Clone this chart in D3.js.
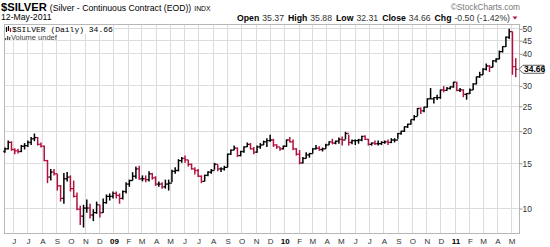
<!DOCTYPE html>
<html><head><meta charset="utf-8">
<script src="https://cdn.jsdelivr.net/npm/d3@7"></script>
<style>
html,body{margin:0;padding:0;background:#fff;}
svg{display:block;font-family:"Liberation Sans",Arial,sans-serif;}
</style></head>
<body><svg id="c" width="550" height="247"></svg>
<script>
// Weekly bars (week starting Monday 12-May-2008 ... 9-May-2011)
const weekHigh = [17.2,18.3,18.2,17.1,17.0,17.6,17.9,18.3,18.9,19.5,18.9,18.0,17.5,15.4,14.2,14.2,13.6,12.3,13.7,13.8,13.4,12.8,11.5,10.2,10.3,10.8,10.4,9.9,10.6,10.3,10.9,11.3,11.4,11.6,
11.6,11.4,11.7,12.6,12.9,13.8,14.5,14.6,13.4,13.4,13.9,13.7,13.3,12.7,12.6,12.9,12.9,14.1,14.4,15.5,15.8,16.0,15.4,14.9,14.4,14.2,13.4,13.5,13.9,14.2,15.0,14.8,14.4,14.6,16.3,16.9,17.5,17.2,16.7,17.4,18.0,17.9,17.3,17.5,17.9,18.3,18.7,19.3,18.6,17.7,17.3,17.5,
18.5,18.9,18.5,17.1,16.8,15.8,16.5,16.4,17.1,17.6,17.4,17.2,17.8,18.2,18.6,18.3,18.8,19.0,19.8,19.3,18.5,18.5,18.6,19.1,19.2,18.6,18.0,18.3,18.3,18.2,18.3,18.5,18.7,18.7,19.6,20.0,20.8,21.3,22.1,23.0,24.5,24.6,24.8,26.7,29.3,27.0,27.6,28.9,29.8,29.6,29.8,31.0,
30.9,29.3,29.0,28.0,29.2,30.6,32.5,33.9,35.0,36.5,36.0,37.6,38.3,41.0,42.6,46.5,49.8,48.6,38.3];
const weekLow = [16.4,16.9,16.7,16.2,16.3,16.5,16.9,17.3,17.6,18.2,17.5,17.2,15.2,12.5,12.8,13.4,11.7,10.6,10.4,12.7,11.6,11.0,9.8,8.6,8.4,9.6,9.1,8.9,9.5,9.2,9.6,10.4,10.7,10.9,
10.9,10.4,10.8,11.4,12.1,12.8,13.0,12.9,12.7,12.6,12.7,12.9,12.2,12.1,11.9,11.9,11.7,12.6,13.6,13.9,15.0,15.0,14.5,14.1,13.5,13.2,12.5,12.7,13.3,13.6,14.1,13.9,13.8,14.0,14.4,16.1,16.8,15.8,15.9,16.4,17.3,16.9,16.2,16.4,17.0,17.6,17.3,18.1,17.3,17.0,16.7,16.9,
17.3,18.0,16.8,16.0,14.8,14.9,15.6,15.7,16.3,16.9,16.7,16.6,17.0,17.6,17.7,17.7,17.8,17.5,18.5,17.5,17.7,17.6,17.8,18.2,18.4,17.5,17.5,17.6,17.5,17.6,17.8,17.6,17.9,18.0,18.6,19.3,19.8,20.5,21.1,21.9,22.8,23.2,23.6,24.6,26.6,25.5,26.3,26.6,28.2,28.6,28.9,29.4,
28.5,28.3,27.0,26.4,27.8,28.8,30.3,32.1,33.0,34.3,33.8,35.3,36.8,37.9,40.3,42.3,45.5,33.0,32.3];
const weekClose = [17.0,18.0,16.9,16.7,16.6,17.4,17.5,18.0,18.6,18.8,17.7,17.4,15.3,13.2,13.8,13.6,12.2,10.9,13.0,13.2,11.9,11.1,9.9,9.3,10.0,10.0,9.4,9.6,10.3,9.6,10.5,11.1,11.1,11.4,
11.2,10.9,11.6,12.4,12.8,13.3,14.2,13.0,13.0,12.9,13.6,13.1,12.4,12.4,12.1,12.4,12.5,13.9,14.0,15.3,15.6,15.4,14.8,14.2,14.0,13.3,12.7,13.4,13.8,14.0,14.8,14.2,14.2,14.4,16.2,16.8,17.1,16.0,16.6,17.3,17.7,17.0,16.5,17.3,17.6,18.1,18.3,18.4,17.6,17.3,17.0,17.4,
18.4,18.1,17.0,16.2,15.0,15.6,16.1,16.3,17.0,17.1,16.9,17.0,17.6,18.1,17.9,18.2,18.5,18.4,19.5,18.0,18.3,18.3,18.4,19.0,18.5,17.7,17.9,17.8,17.8,18.0,18.1,18.0,18.4,18.4,19.5,19.9,20.7,21.2,22.1,22.7,24.4,23.9,24.7,26.6,26.6,26.9,26.9,28.8,28.7,29.2,29.6,30.9,
28.7,28.8,27.7,27.9,28.8,30.4,32.4,33.0,34.7,35.7,35.3,37.4,38.0,40.6,42.5,46.2,48.6,35.5,34.66];
const firstOpen = 16.6;
const yTicks = [10,15,20,25,30,40,45,50];
const lastClose = 34.66;
const headerTitle = "$SILVER";
const headerSub = "(Silver - Continuous Contract (EOD))";
const headerDate = "12-May-2011";
const quote = [["Open","35.37"],["High","35.88"],["Low","32.31"],["Close","34.66"],["Chg","-0.50 (-1.42%)"]];

const svg = d3.select("#c");
const L=4, R=519, T=24, B=233;
const weeks = d3.timeMonday.range(new Date(2008,4,12), new Date(2011,4,10));
const bars = weeks.map((d,i)=>({
  date: d3.timeDay.offset(d,2),
  open: i===0?firstOpen:weekClose[i-1],
  high: weekHigh[i], low: weekLow[i], close: weekClose[i]
}));
const x = d3.scaleTime().domain([new Date(2008,4,12), new Date(2011,4,18)]).range([L,R]);
const y = d3.scaleLog().domain([8.0,52.0]).range([B,T]);

// grid
const months = d3.timeMonth.range(new Date(2008,5,1), new Date(2011,5,1));
svg.append("g").selectAll("line").data(months).join("line")
  .attr("x1",d=>Math.round(x(d))+0.5).attr("x2",d=>Math.round(x(d))+0.5)
  .attr("y1",T).attr("y2",B).attr("stroke","#dcdcdc").attr("stroke-width",1);
svg.append("g").selectAll("line").data(yTicks).join("line")
  .attr("x1",L).attr("x2",R).attr("y1",d=>Math.round(y(d))+0.5).attr("y2",d=>Math.round(y(d))+0.5)
  .attr("stroke","#dcdcdc").attr("stroke-width",1);
svg.append("rect").attr("x",L+0.5).attr("y",T+0.5).attr("width",R-L).attr("height",B-T)
  .attr("fill","none").attr("stroke","#b8b8b8");

// right axis
const ya = d3.axisRight(y).tickValues(yTicks).tickSize(3).tickFormat(d3.format("d"));
const gy = svg.append("g").attr("transform",`translate(${R+0.5},0.5)`).call(ya);
gy.select(".domain").remove();
gy.selectAll(".tick line").attr("stroke","#999");
gy.selectAll("text").attr("font-size",8.5).attr("fill","#333").attr("x",3)
  .attr("font-family","Liberation Sans, Arial, sans-serif");

// bottom month labels
const xa = d3.axisBottom(x).tickValues(months).tickSize(0)
  .tickFormat(d=> d.getMonth()===0 ? d3.timeFormat("%y")(d) : d3.timeFormat("%B")(d)[0]);
const gx = svg.append("g").attr("transform",`translate(0.5,${B+2})`).call(xa);
gx.select(".domain").remove();
gx.selectAll("text").attr("font-size",8).attr("dy","0.71em")
  .attr("font-family","Liberation Sans, Arial, sans-serif")
  .attr("font-weight",d=>d.getMonth()===0?"bold":"normal")
  .attr("fill",d=>d.getMonth()===0?"#000":"#333");

// bars
const up="#000", dn="#b3123e";
const gb = svg.append("g");
bars.forEach(b=>{
  const c = b.close>=b.open?up:dn;
  const cx = x(b.date);
  gb.append("line").attr("x1",cx).attr("x2",cx).attr("y1",y(b.high)).attr("y2",y(b.low)).attr("stroke",c).attr("stroke-width",1.5);
  gb.append("line").attr("x1",cx-1.7).attr("x2",cx).attr("y1",y(b.open)).attr("y2",y(b.open)).attr("stroke",c).attr("stroke-width",1.3);
  gb.append("line").attr("x1",cx).attr("x2",cx+1.7).attr("y1",y(b.close)).attr("y2",y(b.close)).attr("stroke",c).attr("stroke-width",1.3);
});

// last price tag
const ly = y(lastClose);
svg.append("path").attr("d",`M${R},${ly} L${R+4},${ly-4} L${R+25},${ly-4} L${R+25},${ly+4} L${R+4},${ly+4} Z`)
  .attr("fill","#fff").attr("stroke","#333").attr("stroke-width",0.8);
svg.append("text").attr("x",R+5).attr("y",ly+3).attr("font-size",8.5).attr("font-weight","bold").text(d3.format(".2f")(lastClose));

// legend
svg.append("rect").attr("x",L+1).attr("y",T+1).attr("width",108).attr("height",8.5).attr("fill","#fff");
svg.append("rect").attr("x",L+1).attr("y",T+9.5).attr("width",50).attr("height",7).attr("fill","#fff");
const ig = svg.append("g").attr("transform",`translate(${L+2},${T+2})`);
[[0,1,6,"#000"],[2,0,5,"#000"],[4,2,6,"#b3123e"]].forEach(a=>{
  ig.append("line").attr("x1",a[0]+0.5).attr("x2",a[0]+0.5).attr("y1",a[1]).attr("y2",a[2]).attr("stroke",a[3]).attr("stroke-width",1.2);
});
svg.append("text").attr("x",L+8).attr("y",T+8).attr("font-family","Liberation Mono, DejaVu Sans Mono, monospace")
  .attr("font-size",8).attr("fill","#000").text(`${headerTitle} (Daily) ${d3.format(".2f")(lastClose)}`);
const vg = svg.append("g").attr("transform",`translate(${L+1},${T+11})`);
[[0,3],[2,1],[4,2]].forEach(a=>{
  vg.append("rect").attr("x",a[0]).attr("y",a[1]).attr("width",1.3).attr("height",5-a[1]).attr("fill","#555");
});
svg.append("text").attr("x",L+7).attr("y",T+15.5).attr("font-size",7.5).attr("fill","#444").text("Volume undef");

// header
const h = svg.append("text").attr("x",1).attr("y",11);
h.append("tspan").attr("font-size",11.2).attr("font-weight","bold").text(headerTitle);
h.append("tspan").attr("font-size",8.7).attr("dx",3).text(headerSub);
h.append("tspan").attr("font-size",6.8).attr("dx",3).text("INDX");
svg.append("text").attr("x",1).attr("y",20).attr("font-size",8.7).text(headerDate);
svg.append("text").attr("x",520).attr("y",9.5).attr("text-anchor","end").attr("font-size",8.3).attr("fill","#777").text("\u00A9StockCharts.com");
const q = svg.append("text").attr("x",510).attr("y",20.5).attr("text-anchor","end").attr("font-size",8.7);
quote.forEach((p,i)=>{
  q.append("tspan").attr("font-weight","bold").attr("dx",i?4:0).text(p[0]);
  q.append("tspan").attr("dx",3).attr("fill","#333").text(p[1]);
});
svg.append("path").attr("d","M512.5,16.5 L517.5,16.5 L515,19.5 Z").attr("fill","#b3123e");
</script>
</body></html>
